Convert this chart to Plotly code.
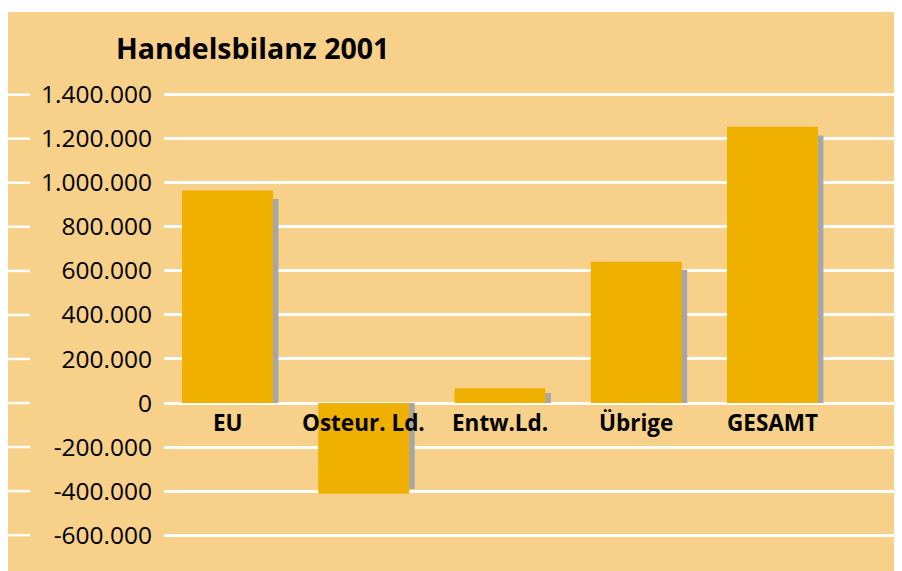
import plotly.graph_objects as go

# Handelsbilanz 2001
kategorien = ["EU", "Osteur. Ld.", "Entw.Ld.", "Übrige", "GESAMT"]
saldo = [965000, -412000, 67000, 642000, 1255000]
schatten = [926000, -391000, 45000, 605000, 1215000]
tick_werte = [-600000, -400000, -200000, 0, 200000, 400000, 600000, 800000, 1000000, 1200000, 1400000]
tick_texte = ["-600.000", "-400.000", "-200.000", "0", "200.000", "400.000", "600.000",
              "800.000", "1.000.000", "1.200.000", "1.400.000"]

bg = "#F7D08A"
bar_col = "#F0B000"
shadow_col = "#A6A6A6"

# page has an 8px body margin; figure runs a bit past the right edge of the window
W, H = 902, 563
left, top = 156, 4
plot_w = W - left
px_per_cat = 136.25
x0 = -(219.5 - left) / px_per_cat

fig = go.Figure()
fig.add_trace(go.Bar(x=list(range(len(kategorien))), y=schatten, width=0.668, offset=-0.294,
                     marker=dict(color=shadow_col, line=dict(width=0)), hoverinfo="skip"))
fig.add_trace(go.Bar(x=list(range(len(kategorien))), y=saldo, width=0.668, offset=-0.334,
                     marker=dict(color=bar_col, line=dict(width=0)), hovertext=kategorien))

# category labels just under the zero line
for i, k in enumerate(kategorien):
    fig.add_annotation(x=i, y=0, xref="x", yref="y", text="<b>%s</b>" % k, showarrow=False,
                       yanchor="top", yshift=-1.5, font=dict(family="Open Sans", size=22.5, color="#000"))

# orange strip left of the plot area + gridline stubs
gx0 = -left / plot_w
gx1 = (22 - left) / plot_w
fig.add_shape(type="rect", xref="paper", yref="paper", x0=gx0, x1=0, y0=0, y1=1,
              fillcolor=bg, line=dict(width=0), layer="below")
for v in tick_werte:
    fig.add_shape(type="line", xref="paper", yref="y", x0=gx0, x1=gx1, y0=v, y1=v,
                  line=dict(color="white", width=2.5), layer="above")

fig.update_layout(
    width=W, height=H,
    margin=dict(l=left, r=0, t=top, b=0, pad=0),
    paper_bgcolor="white", plot_bgcolor=bg,
    barmode="overlay", showlegend=False,
    title=dict(text="<b>Handelsbilanz 2001</b>", x=108 / W, xanchor="left", xref="container",
               y=1 - 41 / H, yanchor="middle", font=dict(family="Open Sans", size=28.5, color="#000")),
    font=dict(family="Open Sans", color="#000"),
)
fig.update_xaxes(range=[x0, x0 + plot_w / px_per_cat], showgrid=False, zeroline=False,
                 showticklabels=False, ticks="", showline=False)
fig.update_yaxes(range=[-762900, 1775600], tickvals=tick_werte, ticktext=tick_texte,
                 showgrid=True, gridcolor="white", gridwidth=2.5,
                 zeroline=True, zerolinecolor="white", zerolinewidth=2.5,
                 ticks="", ticklabelstandoff=11, tickfont=dict(family="Open Sans", size=24.5, color="#000"),
                 showline=False)

fig.write_html("out.html")
